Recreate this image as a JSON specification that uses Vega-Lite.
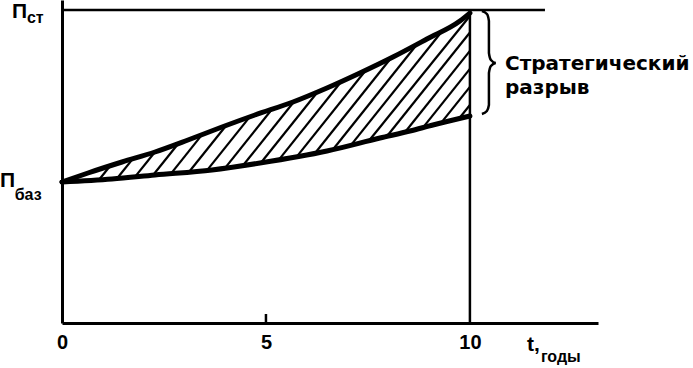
{
  "$schema": "https://vega.github.io/schema/vega-lite/v6.json",
  "width": 536,
  "height": 323,
  "autosize": "none",
  "padding": {"left": 62, "top": 0, "right": 95, "bottom": 45},
  "background": "white",
  "config": {"view": {"stroke": null}, "font": "Liberation Sans"},
  "datasets": {
    "curves": [
      {"series": "upper", "t": 0, "v": 141},
      {"series": "upper", "t": 0.637, "v": 150},
      {"series": "upper", "t": 1.471, "v": 161},
      {"series": "upper", "t": 2.279, "v": 171},
      {"series": "upper", "t": 3.088, "v": 183},
      {"series": "upper", "t": 3.922, "v": 196},
      {"series": "upper", "t": 4.73, "v": 208},
      {"series": "upper", "t": 5.662, "v": 221},
      {"series": "upper", "t": 6.495, "v": 235},
      {"series": "upper", "t": 7.304, "v": 250},
      {"series": "upper", "t": 8.113, "v": 266},
      {"series": "upper", "t": 8.946, "v": 284},
      {"series": "upper", "t": 9.755, "v": 302},
      {"series": "upper", "t": 10, "v": 310},
      {"series": "lower", "t": 0, "v": 141},
      {"series": "lower", "t": 1.225, "v": 144},
      {"series": "lower", "t": 2.279, "v": 148},
      {"series": "lower", "t": 3.676, "v": 153},
      {"series": "lower", "t": 4.853, "v": 160},
      {"series": "lower", "t": 6.495, "v": 172},
      {"series": "lower", "t": 7.794, "v": 185},
      {"series": "lower", "t": 8.529, "v": 192},
      {"series": "lower", "t": 9.093, "v": 198},
      {"series": "lower", "t": 10, "v": 207}
    ],
    "hatch": [
      {"t": 0.907, "v": 143.2, "t2": 1.184, "v2": 157.3},
      {"t": 1.348, "v": 144.5, "t2": 1.74, "v2": 164.4},
      {"t": 1.789, "v": 146.1, "t2": 2.279, "v2": 171},
      {"t": 2.23, "v": 147.8, "t2": 2.853, "v2": 179.5},
      {"t": 2.672, "v": 149.4, "t2": 3.434, "v2": 188.4},
      {"t": 3.113, "v": 151, "t2": 4.025, "v2": 197.5},
      {"t": 3.554, "v": 152.6, "t2": 4.603, "v2": 206.1},
      {"t": 3.995, "v": 154.9, "t2": 5.147, "v2": 213.7},
      {"t": 4.436, "v": 157.5, "t2": 5.686, "v2": 221.3},
      {"t": 4.877, "v": 160.2, "t2": 6.27, "v2": 231.2},
      {"t": 5.319, "v": 163.4, "t2": 6.853, "v2": 241.7},
      {"t": 5.76, "v": 166.6, "t2": 7.453, "v2": 253},
      {"t": 6.201, "v": 169.8, "t2": 8.071, "v2": 265.2},
      {"t": 6.642, "v": 173.5, "t2": 8.684, "v2": 277.7},
      {"t": 7.083, "v": 177.9, "t2": 9.297, "v2": 290.8},
      {"t": 7.525, "v": 182.3, "t2": 10, "v2": 307},
      {"t": 7.966, "v": 186.7, "t2": 10, "v2": 290.5},
      {"t": 8.407, "v": 190.8, "t2": 10, "v2": 272.1},
      {"t": 8.848, "v": 195.4, "t2": 10, "v2": 254.1},
      {"t": 9.289, "v": 199.9, "t2": 10, "v2": 236.1},
      {"t": 9.73, "v": 204.3, "t2": 10, "v2": 218}
    ],
    "frame": [
      {"t": 0, "v": 313, "t2": 11.84, "v2": 313},
      {"t": 10, "v": 0, "t2": 10, "v2": 314},
      {"t": 5, "v": 0, "t2": 5, "v2": 9}
    ],
    "brace": [
      {"i": 1, "t": 10.294, "v": 312},
      {"i": 2, "t": 10.417, "v": 309},
      {"i": 3, "t": 10.466, "v": 302},
      {"i": 4, "t": 10.466, "v": 270},
      {"i": 5, "t": 10.515, "v": 263},
      {"i": 6, "t": 10.637, "v": 260},
      {"i": 7, "t": 10.515, "v": 257},
      {"i": 8, "t": 10.466, "v": 250},
      {"i": 9, "t": 10.466, "v": 218},
      {"i": 10, "t": 10.417, "v": 212},
      {"i": 11, "t": 10.294, "v": 209}
    ],
    "labels": [
      {"role": "main", "t": -1.225, "v": 305, "text": "П"},
      {"role": "sub", "t": -0.86, "v": 300, "text": "ст"},
      {"role": "main", "t": -1.52, "v": 136, "text": "П"},
      {"role": "sub", "t": -1.16, "v": 123, "text": "баз"},
      {"role": "main", "t": 11.4, "v": -28, "text": "t,"},
      {"role": "sub", "t": 11.74, "v": -39, "text": "годы"},
      {"role": "note", "t": 10.86, "v": 253, "text": "Стратегический"},
      {"role": "note", "t": 10.86, "v": 229, "text": "разрыв"}
    ]
  },
  "layer": [
    {
      "data": {"name": "hatch"},
      "mark": {"type": "rule", "color": "black", "strokeWidth": 2.2},
      "encoding": {
        "x": {"field": "t", "type": "quantitative", "scale": {"domain": [0, 13.14], "nice": false, "zero": false},
          "axis": {"values": [0, 5, 10], "title": null, "grid": false, "ticks": false, "domainColor": "black", "domainWidth": 3,
            "labelFontSize": 20, "labelFontWeight": "bold", "labelColor": "black", "labelPadding": 9, "labelFlush": false, "labelFont": "Liberation Sans"}},
        "y": {"field": "v", "type": "quantitative", "scale": {"domain": [0, 323], "nice": false, "zero": false},
          "axis": {"title": null, "grid": false, "ticks": false, "labels": false, "domainColor": "black", "domainWidth": 3}},
        "x2": {"field": "t2"},
        "y2": {"field": "v2"}
      }
    },
    {
      "data": {"name": "frame"},
      "mark": {"type": "rule", "color": "black", "strokeWidth": 2.5},
      "encoding": {
        "x": {"field": "t", "type": "quantitative"},
        "y": {"field": "v", "type": "quantitative"},
        "x2": {"field": "t2"},
        "y2": {"field": "v2"}
      }
    },
    {
      "data": {"name": "curves"},
      "mark": {"type": "line", "color": "black", "strokeWidth": 5, "interpolate": "monotone", "strokeCap": "round", "strokeJoin": "round"},
      "encoding": {
        "x": {"field": "t", "type": "quantitative"},
        "y": {"field": "v", "type": "quantitative"},
        "detail": {"field": "series"}
      }
    },
    {
      "data": {"name": "brace"},
      "mark": {"type": "line", "color": "black", "strokeWidth": 2.5, "interpolate": "monotone"},
      "encoding": {
        "x": {"field": "t", "type": "quantitative"},
        "y": {"field": "v", "type": "quantitative"},
        "order": {"field": "i", "type": "quantitative"}
      }
    },
    {
      "data": {"name": "labels"},
      "transform": [{"filter": "datum.role === 'main'"}],
      "mark": {"type": "text", "align": "left", "baseline": "alphabetic", "fontSize": 21, "fontWeight": "bold", "color": "black", "font": "Liberation Sans"},
      "encoding": {
        "x": {"field": "t", "type": "quantitative"},
        "y": {"field": "v", "type": "quantitative"},
        "text": {"field": "text"}
      }
    },
    {
      "data": {"name": "labels"},
      "transform": [{"filter": "datum.role === 'sub'"}],
      "mark": {"type": "text", "align": "left", "baseline": "alphabetic", "fontSize": 16, "fontWeight": "bold", "color": "black", "font": "Liberation Sans"},
      "encoding": {
        "x": {"field": "t", "type": "quantitative"},
        "y": {"field": "v", "type": "quantitative"},
        "text": {"field": "text"}
      }
    },
    {
      "data": {"name": "labels"},
      "transform": [{"filter": "datum.role === 'note'"}],
      "mark": {"type": "text", "align": "left", "baseline": "alphabetic", "fontSize": 20, "fontWeight": "bold", "color": "black", "font": "DejaVu Sans"},
      "encoding": {
        "x": {"field": "t", "type": "quantitative"},
        "y": {"field": "v", "type": "quantitative"},
        "text": {"field": "text"}
      }
    }
  ]
}
